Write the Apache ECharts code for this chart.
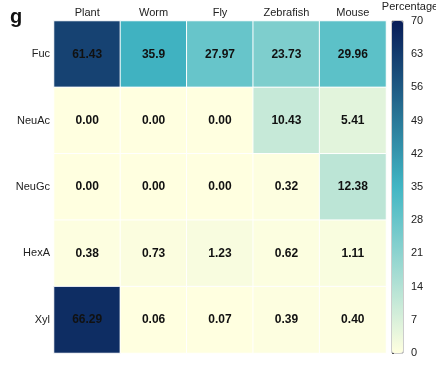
<!DOCTYPE html>
<html><head><meta charset="utf-8">
<script src="https://cdn.jsdelivr.net/npm/echarts@6/dist/echarts.min.js"></script>
<style>html,body{margin:0;padding:0;background:#fff}#c{width:436px;height:369px}</style>
</head><body><div id="c"></div>
<script>
const organisms = ["Plant","Worm","Fly","Zebrafish","Mouse"];
const sugars = ["Fuc","NeuAc","NeuGc","HexA","Xyl"];
const fuc   = ["61.43","35.9","27.97","23.73","29.96"];
const neuac = ["0.00","0.00","0.00","10.43","5.41"];
const neugc = ["0.00","0.00","0.00","0.32","12.38"];
const hexa  = ["0.38","0.73","1.23","0.62","1.11"];
const xyl   = ["66.29","0.06","0.07","0.39","0.40"];
const colorbarTicks = [0,7,14,21,28,35,42,49,56,63,70];

const rows = [fuc, neuac, neugc, hexa, xyl];
const data = [];
rows.forEach((r, yi) => r.forEach((v, xi) => data.push({value:[xi, yi, parseFloat(v)], label:v})));

const chart = echarts.init(document.getElementById('c'), null, {renderer:'canvas'});
const font = 'Liberation Sans, Arial, sans-serif';
chart.setOption({
  animation:false,
  textStyle:{fontFamily:font},
  title:[
    {text:'g', left:10, top:7, padding:0, textStyle:{fontSize:20, fontWeight:'bold', color:'#111', fontFamily:font}},
    {text:'Percentage', left:410, top:1, textAlign:'center', padding:0, textStyle:{fontSize:11, fontWeight:'normal', color:'#222', fontFamily:font}}
  ],
  grid:[
    {left:54, top:21, width:332, height:332},
    {left:392, top:21, width:11, height:332, show:true, borderColor:'#9a9a9a', borderWidth:1}
  ],
  xAxis:[
    {type:'category', data:organisms, position:'top', gridIndex:0,
     axisLine:{show:false}, axisTick:{show:false},
     axisLabel:{fontSize:11, color:'#222', margin:3, fontFamily:font}},
    {type:'value', gridIndex:1, show:false, min:0, max:1}
  ],
  yAxis:[
    {type:'category', data:sugars, inverse:true, gridIndex:0,
     axisLine:{show:false}, axisTick:{show:false},
     axisLabel:{fontSize:11, color:'#222', margin:4, fontFamily:font}},
    {type:'value', gridIndex:1, min:colorbarTicks[0], max:colorbarTicks[colorbarTicks.length-1], interval:7,
     position:'right', splitLine:{show:false},
     axisLine:{show:false}, axisTick:{show:true, length:2, inside:false, lineStyle:{color:'#555'}},
     axisLabel:{fontSize:11, color:'#222', margin:8, fontFamily:font}}
  ],
  visualMap:{
    type:'continuous', min:0, max:70, calculable:false, show:true,
    seriesIndex:0, itemWidth:11, itemHeight:332, left:392, top:21, padding:0,
    text:['',''], showLabel:false, hoverLink:false,
    inRange:{color:['#FFFFE0','#41B6C4','#081D58']}
  },
  series:[
    {type:'heatmap', xAxisIndex:0, yAxisIndex:0, data:data,
     itemStyle:{borderColor:'#fff', borderWidth:1},
     label:{show:true, fontSize:12, fontWeight:'bold', color:'#111', fontFamily:font,
       formatter:p => p.data.label},
     emphasis:{disabled:true}},
    {type:'line', xAxisIndex:1, yAxisIndex:1, data:[], silent:true}
  ]
});
</script></body></html>
